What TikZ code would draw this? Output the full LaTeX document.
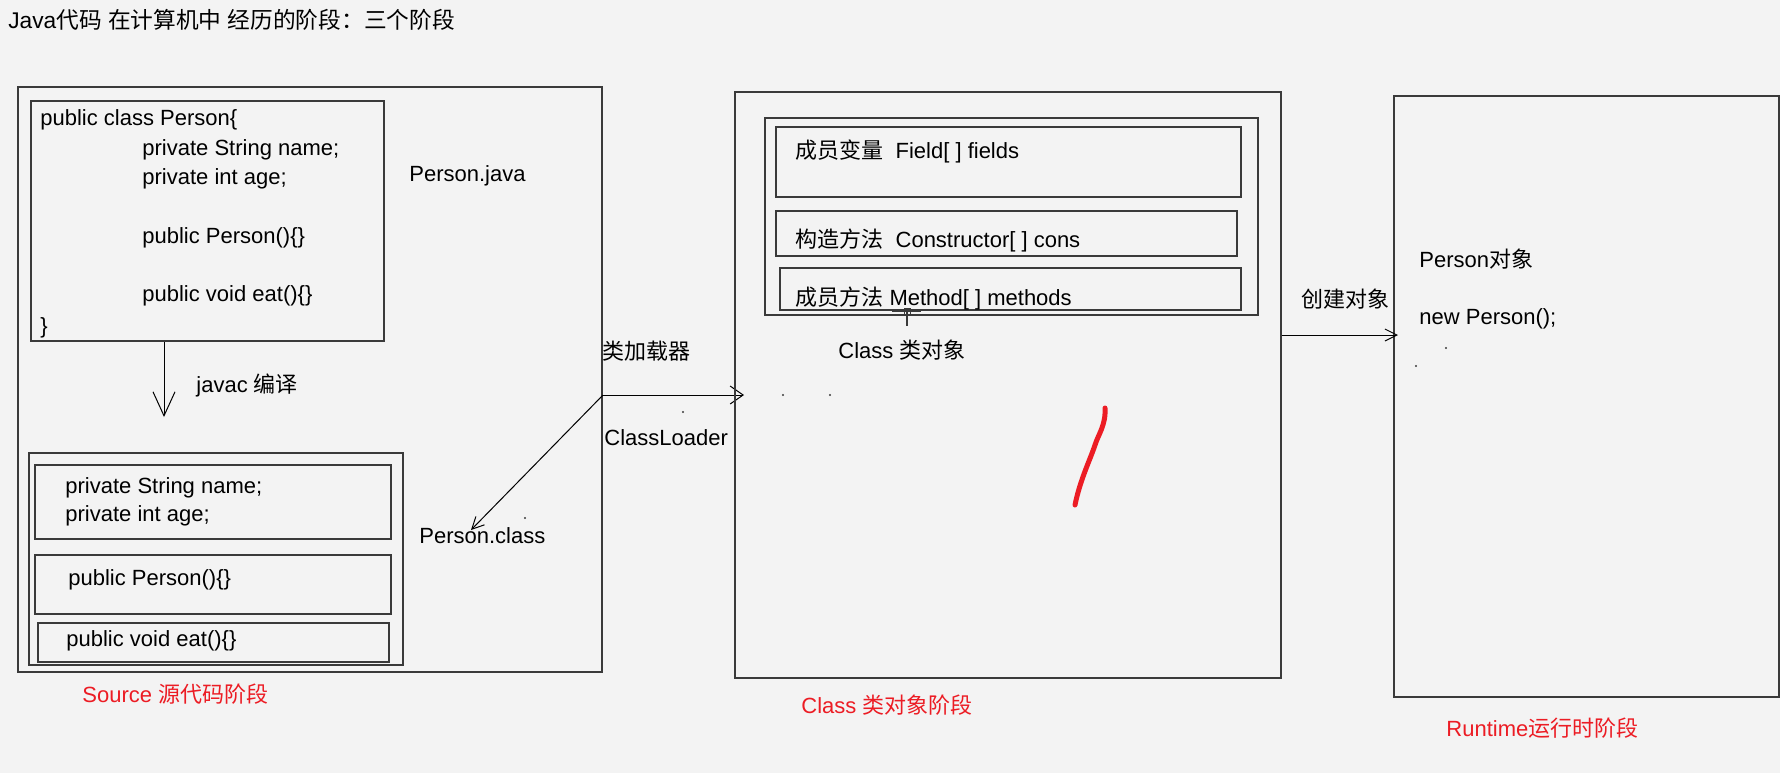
\documentclass[tikz,border=0pt]{standalone}
\usepackage{fontspec}
\setmainfont{Liberation Sans}
\newfontfamily\cjk{Noto Sans CJK SC}
\usetikzlibrary{arrows.meta}
\definecolor{bggray}{HTML}{F3F3F3}
\definecolor{linegray}{HTML}{3A3A3A}
\definecolor{stagered}{RGB}{236,28,36}
\newcommand{\zh}[1]{{\cjk #1}}
\tikzset{
  box/.style 2 args={draw=linegray,line width=1pt,inner sep=0pt,anchor=north west,
    minimum width=#1*0.5pt,minimum height=#2*0.5pt},
  txt/.style={anchor=west,inner sep=0pt,font=\fontsize{11}{13}\selectfont},
  stage/.style={txt,text=stagered},
  link/.style={draw=black,line width=0.5pt},
  bigvee/.style={-{Straight Barb[length=12pt,width=11pt]}},
  vee/.style={-{Straight Barb[length=6.5pt,width=9pt]}},
  smallvee/.style={-{Straight Barb[length=6pt,width=6pt]}},
  speck/.style={fill=linegray,inner sep=0pt,minimum size=1.2pt,circle}
}

\begin{document}
\begin{tikzpicture}[x=0.5pt,y=-0.5pt]
  \path[use as bounding box,fill=bggray] (0,0) rectangle (1780,773);
  \node[txt,font=\fontsize{11.35}{13}\selectfont] (title) at (8,20) {Java\zh{代码} \zh{在计算机中} \zh{经历的阶段：三个阶段}};

  % source stage
  \node[box={584}{585}] (src) at (17,86) {};
  \node[box={353}{240}] (code) at (30,100) {};
  \node[txt] (c1) at (40,120) {public class Person\{};
  \node[txt] (c2) at (142,150) {private String name;};
  \node[txt] (c3) at (142,179) {private int age;};
  \node[txt] (c4) at (142,238) {public Person()\{\}};
  \node[txt] (c5) at (142,296) {public void eat()\{\}};
  \node[txt] (c6) at (40,328) {\}};
  \node[txt] (pjava) at (409,176) {Person.java};
  \coordinate (compend) at (164,417);
  \draw[link,bigvee] (code.south -| compend) -- (compend);
  \node[txt] (javac) at (196,385) {javac \zh{编译}};
  \node[box={374}{212}] (cls) at (28,452) {};
  \node[box={356}{74}] (fbox) at (34,464) {};
  \node[box={356}{59}] (cbox) at (34,554) {};
  \node[box={351}{39}] (mbox) at (37,622) {};
  \node[txt] (f1) at (65,488) {private String name;};
  \node[txt] (f2) at (65,516) {private int age;};
  \node[txt] (k1) at (68,580) {public Person()\{\}};
  \node[txt] (m1) at (66,641) {public void eat()\{\}};
  \node[txt] (pclass) at (419,536) {Person.class};
  \node[speck] (d1) at (525,518) {};
  \node[stage] (srcstage) at (82,694) {Source \zh{源代码阶段}};

  % class loader
  \coordinate (ld) at (src.east |- 0,395);
  \coordinate (ldend) at (744,395);
  \coordinate (clsend) at (471,530);
  \draw[link,vee] (ld) -- (ldend);
  \draw[link,smallvee] (ld) -- (clsend);
  \node[txt] (loader) at (602,351) {\zh{类加载器}};
  \node[txt] (loaderen) at (604,438) {ClassLoader};
  \node[speck] (d2) at (683,412) {};

  % class object stage
  \node[box={546}{586}] (obj) at (734,91) {};
  \node[box={493}{197}] (members) at (764,117) {};
  \node[box={465}{70}] (fld) at (775,126) {};
  \node[box={461}{45}] (con) at (775,210) {};
  \node[box={461}{42}] (met) at (779,267) {};
  \node[txt] (fldtxt) at (795,151) {\zh{成员变量}\ \ Field[ ] fields};
  \node[txt] (contxt) at (795,240) {\zh{构造方法}\ \ Constructor[ ] cons};
  \node[txt] (mettxt) at (795,298) {\zh{成员方法} Method[ ] methods};
  \draw[linegray,line width=0.6pt] (892,311) -- (921,311) (907,309) -- (907,326);
  \node[draw=linegray,line width=0.4pt,inner sep=0pt,minimum size=3pt] (mark) at (907,311) {};
  \node[txt] (clsobj) at (838,350) {Class \zh{类对象}};
  \node[speck] (d3) at (783,395) {};
  \node[speck] (d4) at (830,395) {};
  \draw[stagered,line width=2.5pt,line cap=round] (1105,408) .. controls (1106,425) and (1098,435) .. (1095,445)
    .. controls (1090,460) and (1080,480) .. (1075,505);
  \node[stage] (clsstage) at (801,705) {Class \zh{类对象阶段}};

  % runtime stage
  \node[box={385}{601}] (rt) at (1393,95) {};
  \coordinate (rtin) at (1398,335);
  \draw[link,smallvee] (obj.east |- rtin) -- (rtin);
  \node[txt] (create) at (1301,299) {\zh{创建对象}};
  \node[txt] (pobj) at (1419,259) {Person\zh{对象}};
  \node[txt] (newp) at (1419,319) {new Person();};
  \node[speck] (d5) at (1446,348) {};
  \node[speck] (d6) at (1416,366) {};
  \node[stage] (rtstage) at (1446,728) {Runtime\zh{运行时阶段}};
\end{tikzpicture}
\end{document}
